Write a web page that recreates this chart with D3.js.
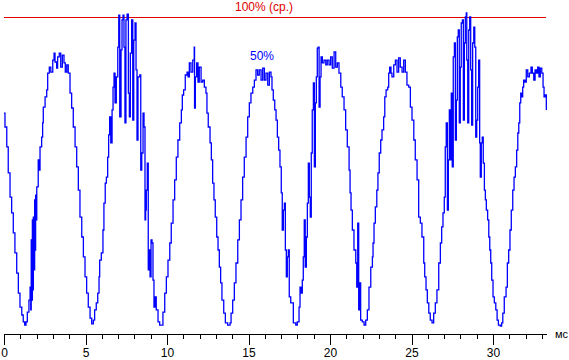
<!DOCTYPE html>
<html>
<head>
<meta charset="utf-8">
<script src="https://cdn.jsdelivr.net/npm/d3@7"></script>
<style>
  body { margin: 0; background: #fff; }
  svg { display: block; font-family: "Liberation Sans", Arial, sans-serif; }
</style>
</head>
<body>
<div id="chart"></div>
<script>
// brightness trace, [time in ms, level in % of mean 100%]
var wave = [
  [0,69.7],[0.06,65.3],[0.17,59.0],[0.26,50.8],[0.37,43.2],[0.47,38.2],[0.57,31.9],[0.67,25.6],
  [0.78,19.2],[0.88,12.9],[0.98,8.5],[1.09,6.0],[1.18,3.8],[1.27,2.8],[1.35,3.8],[1.43,6.9],
  [1.53,10.7],[1.60,14.8],[1.64,7.6],[1.67,29.7],[1.70,10.7],[1.74,36],[1.76,13.9],[1.80,36.9],
  [1.84,20.2],[1.88,42.3],[1.92,26.5],[1.94,43.8],[1.98,36],[2.01,46.4],[2.10,54.9],[2.15,51.7],
  [2.21,59.0],[2.31,62.1],[2.37,66.6],[2.41,71.6],[2.52,74.8],[2.62,77.0],[2.68,82.3],[2.78,84.2],
  [2.87,82.6],[2.99,86.4],[3.07,88.6],[3.13,85.8],[3.23,83.9],[3.29,87.4],[3.39,88.6],[3.48,84.2],
  [3.58,88.0],[3.68,85.5],[3.76,82.6],[3.85,84.9],[3.94,82.3],[4.05,76.0],[4.15,71.3],[4.25,65.3],
  [4.36,59.0],[4.46,52.7],[4.56,45.4],[4.66,36.9],[4.77,30.6],[4.87,24.3],[4.97,18.0],[5.07,12.9],
  [5.17,8.5],[5.28,5.0],[5.38,3.2],[5.48,4.4],[5.56,7.6],[5.66,9.8],[5.75,12.9],[5.83,18.0],
  [5.87,23.3],[5.97,25.6],[6.07,32.8],[6.13,41.3],[6.21,47.6],[6.28,49.5],[6.36,55.8],[6.42,62.8],
  [6.48,68.5],[6.55,60.3],[6.63,70.7],[6.69,77.9],[6.75,82.3],[6.81,72.9],[6.89,81.1],[6.98,90.5],
  [7.04,100.6],[7.10,68.5],[7.18,89.6],[7.24,99.1],[7.30,100.6],[7.36,90.5],[7.42,66.6],[7.48,99.1],
  [7.55,100.9],[7.63,76.0],[7.69,68.5],[7.75,88.6],[7.83,99.1],[7.90,67.5],[7.96,92.7],[8.04,98.1],
  [8.10,83.3],[8.16,61.2],[8.22,81.1],[8.33,81.7],[8.39,51.7],[8.45,57.1],[8.53,69.7],[8.59,65.3],
  [8.65,36.0],[8.69,39.1],[8.73,45.4],[8.79,53.9],[8.85,20.2],[8.90,26.5],[8.96,18.0],[9.02,29.7],
  [9.08,28.7],[9.14,17.0],[9.20,8.5],[9.26,11.7],[9.34,7.6],[9.45,3.8],[9.55,2.8],[9.67,2.8],
  [9.75,6.9],[9.86,12.9],[9.96,18.0],[10.06,23.3],[10.17,28.7],[10.26,35.0],[10.37,42.3],[10.47,48.6],
  [10.57,55.8],[10.67,61.2],[10.78,66.6],[10.88,70.7],[10.94,75.4],[11.02,77.0],[11.12,81.7],[11.23,82.6],
  [11.29,81.1],[11.37,85.5],[11.47,82.6],[11.58,86.4],[11.67,90.5],[11.69,71.3],[11.74,81.1],[11.82,85.5],
  [11.90,79.5],[11.98,84.2],[12.09,79.5],[12.19,80.1],[12.29,77.9],[12.39,76.0],[12.45,69.7],[12.53,65.3],
  [12.64,60.3],[12.72,54.9],[12.80,47.6],[12.88,42.3],[12.96,36.9],[13.05,30.6],[13.13,26.5],[13.21,21.1],
  [13.29,16.1],[13.37,10.7],[13.48,6.6],[13.58,3.5],[13.72,2.8],[13.87,3.5],[13.93,6.6],[14.03,10.7],
  [14.13,16.1],[14.23,22.4],[14.34,29.7],[14.44,36.0],[14.54,42.3],[14.64,49.5],[14.74,55.8],[14.85,62.1],
  [14.95,68.5],[15.05,72.9],[15.15,76.0],[15.26,77.9],[15.36,80.1],[15.46,83.3],[15.56,81.7],[15.66,83.3],
  [15.77,80.1],[15.87,83.9],[15.97,80.1],[16.07,82.3],[16.18,78.5],[16.28,82.6],[16.38,81.1],[16.44,77.0],
  [16.52,73.8],[16.61,70.7],[16.69,67.5],[16.77,62.1],[16.85,58.0],[16.93,52.7],[17.01,44.5],[17.07,32.8],
  [17.14,39.1],[17.20,41.3],[17.26,26.5],[17.32,18.0],[17.38,24.3],[17.44,26.5],[17.50,11.7],[17.59,9.8],
  [17.69,9.8],[17.75,3.5],[17.90,2.8],[17.99,3.8],[18.10,8.5],[18.16,14.8],[18.22,12.9],[18.30,17.0],
  [18.36,24.3],[18.42,36.0],[18.48,21.1],[18.55,30.6],[18.61,41.3],[18.67,53.9],[18.73,43.2],[18.79,36.9],
  [18.85,57.1],[18.91,70.7],[18.98,79.2],[19.04,52.7],[19.10,72.9],[19.16,81.1],[19.22,90.2],[19.28,90.5],
  [19.33,71.6],[19.39,81.1],[19.45,87.4],[19.53,85.5],[19.63,86.4],[19.74,84.9],[19.83,86.4],[19.94,84.9],
  [20.04,87.4],[20.14,83.9],[20.25,89.0],[20.35,84.2],[20.45,85.5],[20.55,82.3],[20.66,77.9],[20.75,74.8],
  [20.86,70.7],[20.96,64.4],[21.06,59.0],[21.17,51.7],[21.23,44.5],[21.29,39.1],[21.37,32.8],[21.47,26.5],
  [21.58,22.4],[21.64,14.8],[21.70,35.0],[21.76,7.6],[21.82,16.1],[21.88,4.4],[21.98,3.8],[22.09,2.8],
  [22.19,4.4],[22.29,7.6],[22.39,14.8],[22.50,21.1],[22.60,24.3],[22.64,28.7],[22.70,35.0],[22.78,40.1],
  [22.87,45.4],[22.94,50.8],[23.02,57.1],[23.11,61.2],[23.19,64.4],[23.29,68.5],[23.36,74.8],[23.44,77.0],
  [23.54,77.9],[23.60,82.3],[23.66,84.2],[23.74,82.3],[23.80,81.1],[23.91,84.9],[24.01,86.4],[24.11,82.6],
  [24.21,87.1],[24.31,84.2],[24.42,82.6],[24.52,86.4],[24.62,82.6],[24.72,78.5],[24.83,77.9],[24.93,71.6],
  [25.03,67.5],[25.14,61.2],[25.23,54.9],[25.34,48.6],[25.44,36.9],[25.54,35.0],[25.64,30.6],[25.75,22.4],
  [25.81,18.0],[25.89,13.9],[25.97,9.8],[26.06,6.6],[26.15,4.4],[26.26,3.5],[26.36,6.6],[26.46,9.8],
  [26.56,13.9],[26.67,22.4],[26.77,28.7],[26.85,33.8],[26.93,38.2],[27.01,43.2],[27.07,59.0],[27.13,66.6],
  [27.20,39.1],[27.26,54.9],[27.32,70.7],[27.38,54.9],[27.44,76.0],[27.50,52.7],[27.56,87.4],[27.63,91.8],
  [27.69,61.2],[27.75,73.8],[27.81,93.7],[27.87,95.9],[27.93,66.6],[27.99,84.2],[28.05,98.1],[28.12,99.1],
  [28.18,67.5],[28.24,91.8],[28.30,100.0],[28.36,101.3],[28.39,86.4],[28.45,66.6],[28.51,95.9],[28.57,100.0],
  [28.63,83.3],[28.69,65.9],[28.75,91.8],[28.82,96.8],[28.88,90.5],[28.94,62.1],[29.00,67.5],[29.06,77.9],
  [29.12,86.4],[29.18,60.3],[29.22,49.5],[29.28,60.3],[29.34,62.1],[29.40,53.9],[29.47,45.4],[29.53,42.3],
  [29.59,39.1],[29.67,36.0],[29.74,30.6],[29.80,26.5],[29.86,22.4],[29.92,17.0],[30.00,11.7],[30.08,9.8],
  [30.17,7.6],[30.25,4.4],[30.33,2.8],[30.45,2.5],[30.53,3.5],[30.60,6.6],[30.69,11.7],[30.80,14.8],
  [30.88,22.4],[30.96,26.5],[31.04,32.8],[31.12,39.1],[31.21,45.4],[31.29,49.5],[31.37,52.7],[31.45,58.0],
  [31.52,63.4],[31.58,66.6],[31.64,72.9],[31.70,76.0],[31.76,74.8],[31.82,77.9],[31.88,80.1],[31.96,79.5],
  [32.04,83.3],[32.13,81.1],[32.23,82.3],[32.33,84.2],[32.41,82.3],[32.50,80.1],[32.58,83.3],[32.66,82.3],
  [32.74,84.2],[32.82,81.1],[32.90,83.9],[32.99,82.3],[33.07,77.9],[33.13,74.8],[33.21,75.4],[33.27,70.7]
];
var refLevel = 100;
var refLabel = "100% (ср.)";
var depthLabel = "50%";
var minorTicks = d3.range(0, 34, 1);
var majorTicks = [0, 5, 10, 15, 20, 25, 30];
var unitLabel = "мс";

var width = 569, height = 360;
var svg = d3.select("#chart").append("svg")
  .attr("width", width)
  .attr("height", height);

var x = d3.scaleLinear().domain([0, 33.25]).range([4, 546]);
var y = d3.scaleLinear().domain([0, 100]).range([334, 17]);

// reference line for the mean level
svg.append("line")
  .attr("x1", x(0)).attr("x2", x(33.25))
  .attr("y1", Math.round(y(refLevel)) + 0.5).attr("y2", Math.round(y(refLevel)) + 0.5)
  .attr("stroke", "#e00000")
  .attr("shape-rendering", "crispEdges");

svg.append("text")
  .attr("x", 264).attr("y", 11)
  .attr("text-anchor", "middle")
  .attr("fill", "#e00000")
  .style("font-size", "12px")
  .text(refLabel);

// the trace
var line = d3.line()
  .x(function(d){ return x(d[0]); })
  .y(function(d){ return y(d[1]); })
  .curve(d3.curveStepAfter);

svg.append("path")
  .datum(wave)
  .attr("d", line)
  .attr("fill", "none")
  .attr("stroke", "#0000ff")
  .attr("stroke-width", 1.3);

svg.append("text")
  .attr("x", 262).attr("y", 60)
  .attr("text-anchor", "middle")
  .attr("fill", "#0000ff")
  .style("font-size", "12px")
  .text(depthLabel);

// time axis
var minorAxis = d3.axisBottom(x)
  .tickValues(minorTicks)
  .tickSize(5)
  .tickSizeOuter(0)
  .tickFormat("");

var majorAxis = d3.axisBottom(x)
  .tickValues(majorTicks)
  .tickSize(11)
  .tickSizeOuter(0)
  .tickPadding(3)
  .tickFormat(d3.format("d"));

var gMinor = svg.append("g").attr("transform", "translate(0,334)").call(minorAxis);
var gMajor = svg.append("g").attr("transform", "translate(0,334)").call(majorAxis);
gMajor.select(".domain").remove();

svg.selectAll(".tick line, .domain")
  .attr("stroke", "#000")
  .attr("shape-rendering", "crispEdges");
gMajor.selectAll("text")
  .attr("fill", "#000")
  .style("font-size", "12px")
  .style("font-family", "\"Liberation Sans\", Arial, sans-serif");

svg.append("text")
  .attr("x", 555).attr("y", 338)
  .attr("fill", "#000")
  .style("font-size", "11px")
  .text(unitLabel);
</script>
</body>
</html>
